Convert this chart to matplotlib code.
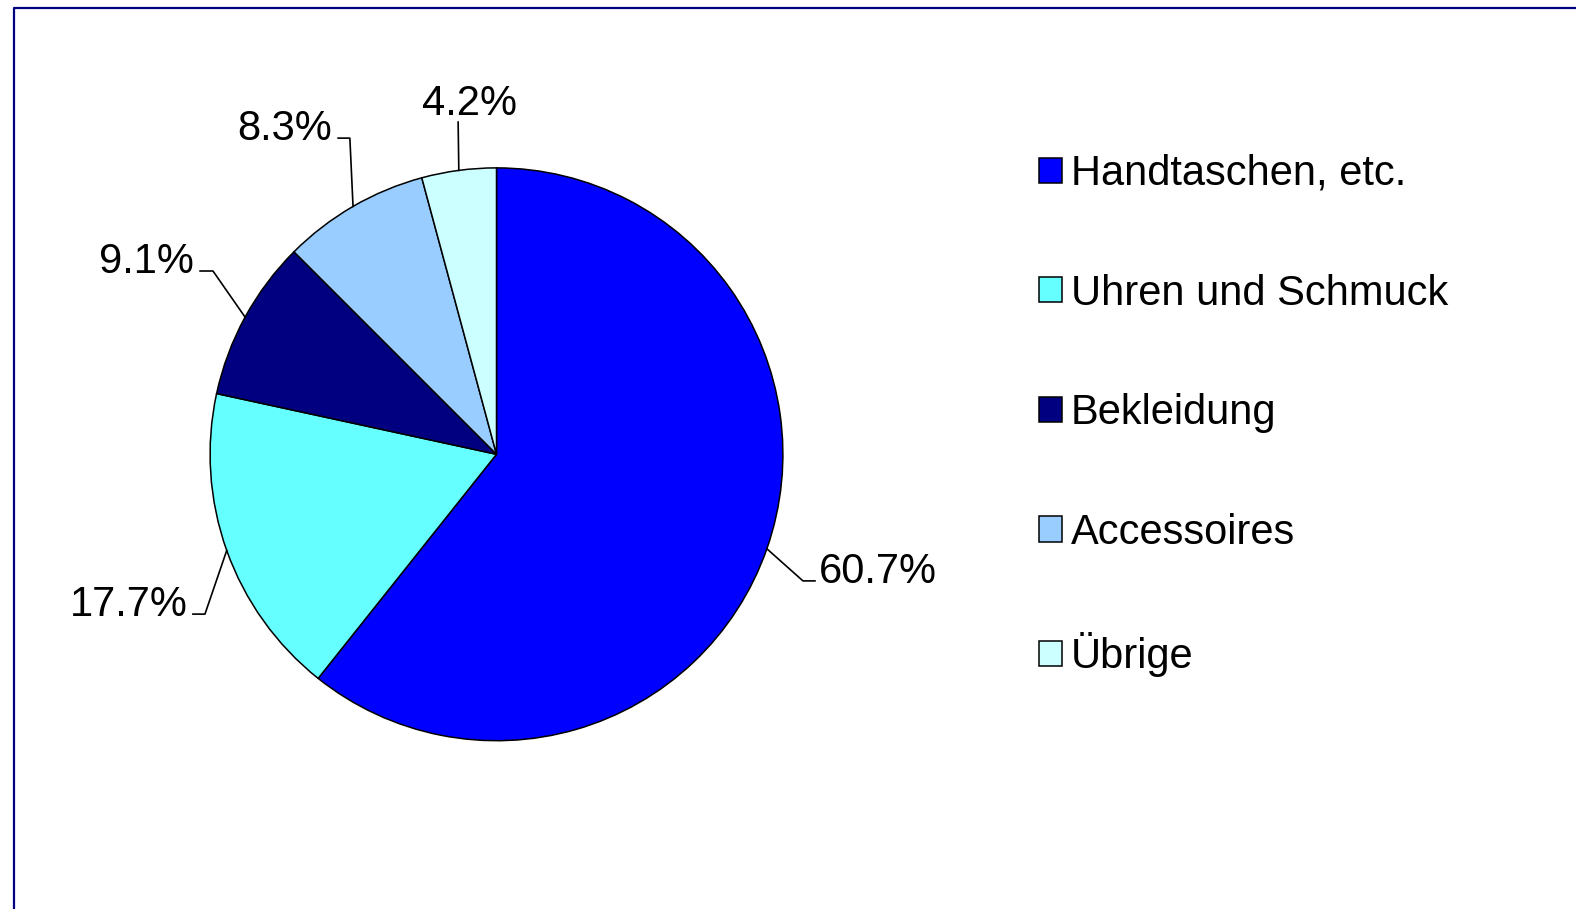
import numpy as np
import matplotlib
matplotlib.use("Agg")
import matplotlib.pyplot as plt
from matplotlib.lines import Line2D

plt.rcParams['font.family'] = ['Liberation Sans', 'DejaVu Sans']

# Daten
kategorien = ['Handtaschen, etc.', 'Uhren und Schmuck', 'Bekleidung',
              'Accessoires', 'Übrige']
anteile = [60.7, 17.7, 9.1, 8.3, 4.2]
farben = ['#0000FF', '#66FFFF', '#000080', '#99CCFF', '#CCFFFF']

# Beschriftungen: Knickpunkt, Ende der Führungslinie, Textposition, Ausrichtung
knick = [(1.070, -0.442), (-1.018, -0.558), (-0.990, 0.640), (-0.512, 1.104), (-0.134, 1.160)]
ende = [(1.112, -0.442), (-1.060, -0.558), (-1.035, 0.640), (-0.553, 1.104), (-0.134, 1.160)]
textpos = [(1.126, -0.449), (-1.077, -0.565), (-1.056, 0.634), (-0.574, 1.097), (-0.096, 1.185)]
ha_list = ['left', 'right', 'right', 'right', 'center']

W, H = 1576, 909
fig = plt.figure(figsize=(W / 100, H / 100), dpi=100)

# Rahmen (nur oben und links sichtbar)
fig.add_artist(Line2D([13.5 / W, 13.5 / W, 1.0], [0.0, 1 - 7.5 / H, 1 - 7.5 / H],
                      transform=fig.transFigure, color='#000080', lw=1.6))

ax = fig.add_axes([138.5 / W, 96.7 / H, 716 / W, 716 / H])
wedges, _ = ax.pie(anteile, colors=farben, startangle=90, counterclock=False,
                   wedgeprops=dict(edgecolor='black', linewidth=1.1))
ax.set_xlim(-1.25, 1.25)
ax.set_ylim(-1.25, 1.25)
ax.set_aspect('equal')
ax.axis('off')

# Führungslinien und Prozentwerte
for w, val, k, e, t, ha in zip(wedges, anteile, knick, ende, textpos, ha_list):
    mitte = np.radians((w.theta1 + w.theta2) / 2)
    x0, y0 = np.cos(mitte), np.sin(mitte)
    ax.plot([x0, k[0], e[0]], [y0, k[1], e[1]], color='black', lw=1.2,
            clip_on=False)
    ax.text(t[0], t[1], f'{val:.1f}%', ha=ha, va='baseline', fontsize=30,
            clip_on=False)

fig.legend(wedges, kategorien, loc='upper left',
           bbox_to_anchor=(1039 / W, 1 - 154 / H), frameon=False,
           fontsize=30, handlelength=0.55, handleheight=0.55,
           handletextpad=0.22, labelspacing=1.91, borderpad=0,
           borderaxespad=0)

fig.savefig('out.png', dpi=100, facecolor='white')
